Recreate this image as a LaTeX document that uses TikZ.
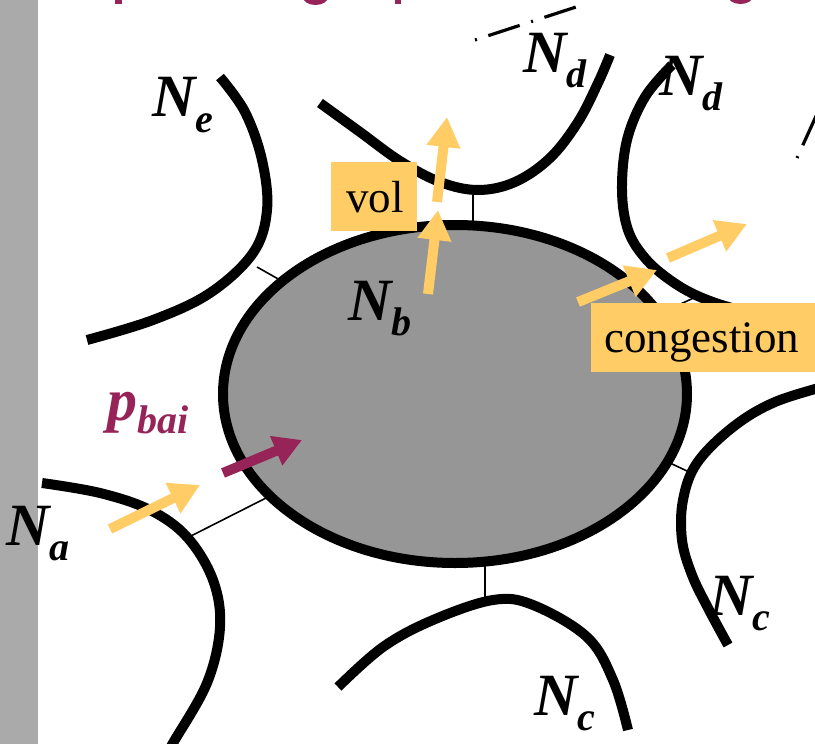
\documentclass[tikz,border=0pt]{standalone}
\usepackage{fontspec}
\setmainfont{Liberation Serif}
\usetikzlibrary{arrows.meta,shapes.geometric}
\definecolor{ylw}{RGB}{255,204,102}
\definecolor{purp}{RGB}{150,36,88}
\definecolor{barg}{RGB}{170,170,170}
\definecolor{ellg}{RGB}{150,150,150}
\newcommand\lowsub[2]{\raisebox{-#1pt}{\fontsize{40}{40}\selectfont #2}}
\begin{document}
\begin{tikzpicture}[x=1pt,y=-1pt,
  thickcurve/.style={line width=10pt, line cap=butt},
  link/.style={line width=1.6pt},
  yarrow/.style={ylw, line width=10pt, -{Triangle[length=30pt,width=32pt]}},
  parrow/.style={purp, line width=10pt, -{Triangle[length=28pt,width=30pt]}},
  lab/.style={font=\fontsize{60}{60}\selectfont\bfseries\itshape, inner sep=0pt, anchor=base west},
  tagbox/.style={fill=ylw, inner sep=0pt},
  tagtext/.style={font=\fontsize{45}{45}\selectfont, inner sep=0pt, anchor=base west},
  dashdot/.style={line width=3.2pt, dash pattern=on 2pt off 12pt on 33pt off 12pt}
]
\useasboundingbox (0,0) rectangle (815,744);
\clip (0,0) rectangle (815,744);
\fill[white] (0,0) rectangle (815,744);
% left bar
\fill[barg] (0,0) rectangle (38,744);
% fragments of the cut-off title
\fill[purp] (115,0) rectangle (122,4);
\fill[purp] (395,0) rectangle (401,4);
\fill[purp] (315.5,-3) ellipse [x radius=12.5, y radius=8];
\fill[purp] (740.5,-4) ellipse [x radius=12.5, y radius=8];
% neighbouring region boundaries
\draw[thickcurve] plot[smooth, tension=0.6] coordinates {(220,77) (245,112) (262,160) (267,210) (253,253) (210,293) (153,320) (87,340)};
\draw[thickcurve] plot[smooth, tension=0.6] coordinates {(320,103) (360,132) (400,161) (440,182) (478,190) (515,182) (550,158) (578,122) (598,83) (610,55)};
\draw[thickcurve] plot[smooth, tension=0.6] coordinates {(672,65) (645,97) (627,140) (622,190) (628,230) (645,258) (670,280) (700,297) (740,310) (790,318) (830,320)};
\draw[thickcurve] plot[smooth, tension=0.6] coordinates {(830,385) (775,402) (733,427) (697,463) (683,500) (682,540) (692,575) (708,608) (728,645)};
\draw[thickcurve] plot[smooth, tension=0.6] coordinates {(338,687) (383,647) (433,620) (493,600) (533,605) (587,637) (613,680) (628,730)};
\draw[thickcurve] plot[smooth, tension=0.6] coordinates {(42,483) (100,493) (150,510) (187,537) (213,580) (220,627) (207,683) (173,743) (160,765)};
% dash-dot lines
\draw[dashdot] (475,40) -- (576,7);
\draw[dashdot] (797,158) -- (822,103);
% thin links
\coordinate (le1) at (257,267); \coordinate (le2) at (280,280);
\coordinate (ld1) at (473,190); \coordinate (ld2) at (473,225);
\coordinate (lf1) at (700,295); \coordinate (lf2) at (672,308);
\coordinate (lc1) at (687,471); \coordinate (lc2) at (670,463);
\coordinate (lg1) at (485,600); \coordinate (lg2) at (485,565);
\coordinate (la1) at (187,538); \coordinate (la2) at (266,498);
\draw[link] (le1) -- (le2);
\draw[link] (ld1) -- (ld2);
\draw[link] (lf1) -- (lf2);
\draw[link] (lc1) -- (lc2);
\draw[link] (lg1) -- (lg2);
\draw[link] (la1) -- (la2);
% central region
\node[ellipse, draw, line width=10pt, fill=ellg, minimum width=464pt, minimum height=338pt, inner sep=0pt] (Nbell) at (455,394) {};
% labels
\node[lab] (Ne) at (152,116) {N\lowsub{16}{e}};
\node[lab] (Nd1) at (523,72) {N\lowsub{15}{d}};
\node[lab] (Nd2) at (659,95) {N\lowsub{15}{d}};
\node[lab] (Nb) at (348,320) {N\lowsub{15}{b}};
\node[lab] (Na) at (6,545) {N\lowsub{15}{a}};
\node[lab] (Nc1) at (709,615) {N\lowsub{15}{c}};
\node[lab] (Nc2) at (534,715) {N\lowsub{15}{c}};
\node[lab, text=purp] (pbai) at (107,420) {p\lowsub{13}{bai}};
% arrows
\coordinate (a1s) at (110,529); \coordinate (a1e) at (200,485);
\coordinate (pps) at (223,473); \coordinate (ppe) at (302,440);
\coordinate (u1s) at (428,294); \coordinate (u1e) at (438,210);
\coordinate (u2s) at (437,202); \coordinate (u2e) at (447,117);
\coordinate (c1s) at (578,302); \coordinate (c1e) at (657,270);
\coordinate (c2s) at (668,258); \coordinate (c2e) at (747,224);
\draw[yarrow] (a1s) -- (a1e);
\draw[parrow] (pps) -- (ppe);
\draw[yarrow] (u1s) -- (u1e);
\draw[yarrow] (u2s) -- (u2e);
\draw[yarrow] (c1s) -- (c1e);
\draw[yarrow] (c2s) -- (c2e);
% tags
\node[tagbox, minimum width=86pt, minimum height=69pt] (volbox) at (374,196.5) {};
\node[tagtext] (vol) at (346,212) {vol};
\node[tagbox, minimum width=240pt, minimum height=69pt, anchor=north west] (congbox) at (591,303) {};
\node[tagtext] (cong) at (604,352) {congestion};
\end{tikzpicture}
\end{document}
